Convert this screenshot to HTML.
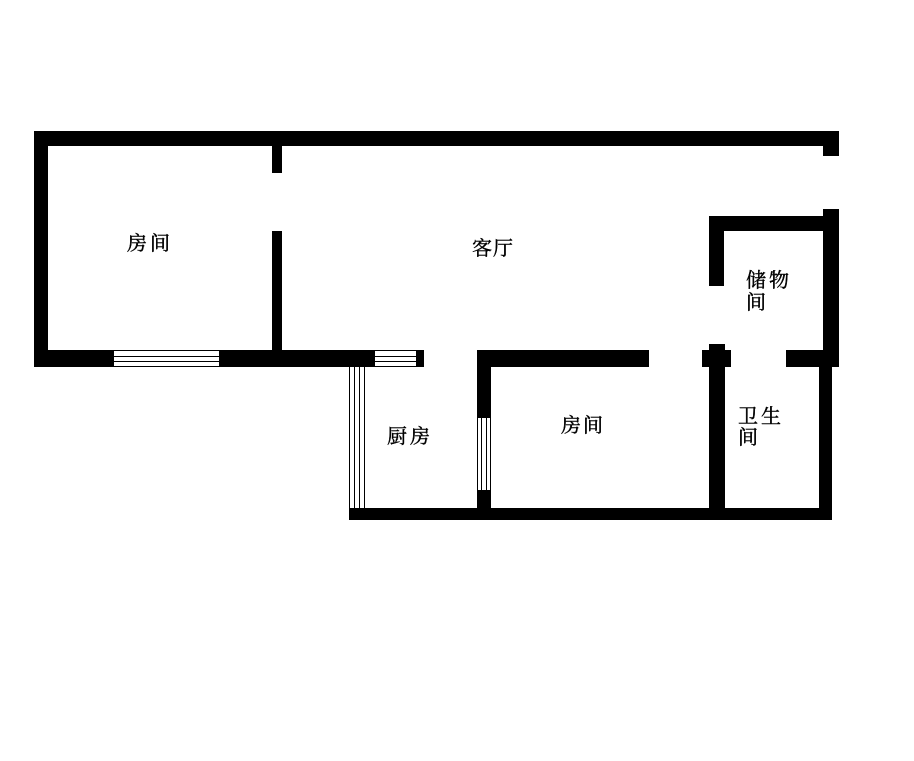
<!DOCTYPE html>
<html lang="zh">
<head>
<meta charset="utf-8">
<style>
html,body{margin:0;padding:0;background:#fff;}
svg{display:block;}
text{font-family:"Liberation Serif","Noto Serif CJK SC",serif;font-size:20px;fill:#000;stroke:#000;stroke-width:0.4px;}
</style>
</head>
<body>
<svg width="914" height="761" viewBox="0 0 914 761" xmlns="http://www.w3.org/2000/svg" shape-rendering="crispEdges">
<rect width="914" height="761" fill="#fff"/>
<g fill="#000">
<!-- outer top and left -->
<rect x="34" y="131" width="805" height="15"/>
<rect x="34" y="131" width="14" height="236"/>
<rect x="823" y="131" width="16" height="25"/>
<!-- partition -->
<rect x="272" y="146" width="10" height="27"/>
<rect x="272" y="231" width="10" height="120"/>
<!-- mid wall left -->
<rect x="34" y="350" width="390" height="17"/>
<!-- kitchen / room -->
<rect x="477" y="350" width="172" height="17"/>
<rect x="477" y="350" width="14" height="68"/>
<rect x="477" y="490" width="14" height="20"/>
<rect x="349" y="508" width="483" height="12"/>
<!-- storage -->
<rect x="709" y="216" width="130" height="15"/>
<rect x="709" y="216" width="15" height="70"/>
<rect x="823" y="209" width="16" height="158"/>
<!-- pillar + bath -->
<rect x="709" y="344" width="16" height="170"/>
<rect x="702" y="350" width="29" height="17"/>
<rect x="786" y="350" width="53" height="17"/>
<rect x="819" y="367" width="13" height="150"/>
</g>
<!-- window 1 -->
<rect x="114" y="351" width="105" height="15" fill="#fff"/>
<rect x="114" y="356" width="105" height="1" fill="#000"/>
<rect x="114" y="361" width="105" height="1" fill="#000"/>
<!-- window 2 -->
<rect x="375" y="351" width="41" height="15" fill="#fff"/>
<rect x="375" y="356" width="41" height="1" fill="#000"/>
<rect x="375" y="361" width="41" height="1" fill="#000"/>
<!-- kitchen left window -->
<g fill="#000">
<rect x="349" y="367" width="1" height="141"/>
<rect x="354" y="367" width="1" height="141"/>
<rect x="359" y="367" width="1" height="141"/>
<rect x="364" y="367" width="1" height="141"/>
</g>
<!-- kitchen right window -->
<rect x="477" y="418" width="14" height="72" fill="#fff"/>
<g fill="#000">
<rect x="477" y="418" width="1" height="72"/>
<rect x="481" y="418" width="1" height="72"/>
<rect x="486" y="418" width="1" height="72"/>
<rect x="490" y="418" width="1" height="72"/>
</g>
<!-- labels -->
<text x="127" y="250">房</text><text x="150" y="250">间</text>
<text x="472" y="255">客</text><text x="493" y="255">厅</text>
<text x="387" y="443">厨</text><text x="410" y="443">房</text>
<text x="561" y="432">房</text><text x="583" y="432">间</text>
<text x="746" y="287">储</text><text x="769" y="287">物</text>
<text x="746" y="309">间</text>
<text x="738" y="423">卫</text><text x="761" y="423">生</text>
<text x="738" y="444">间</text>
</svg>
</body>
</html>
